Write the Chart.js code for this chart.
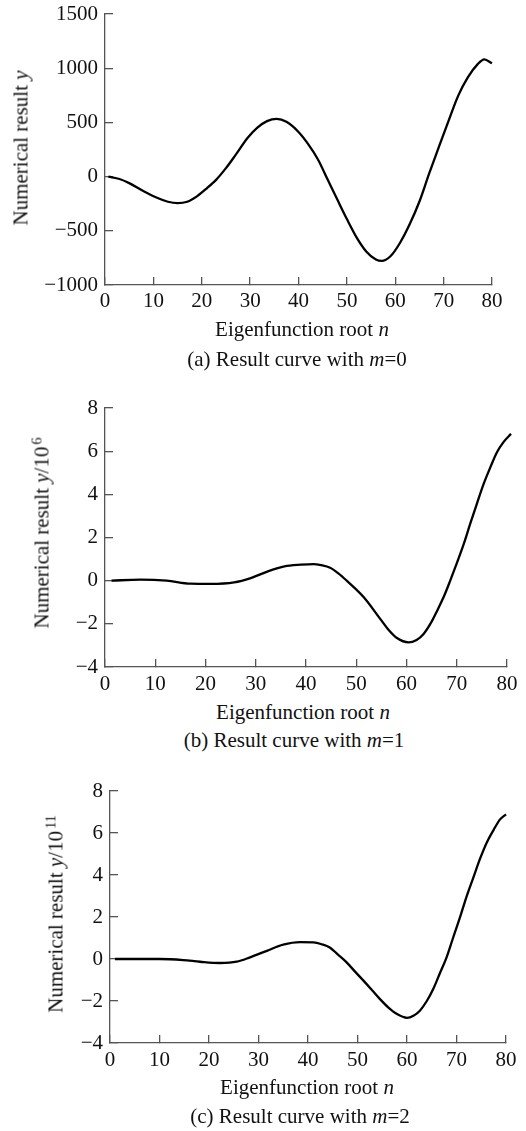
<!DOCTYPE html>
<html>
<head>
<meta charset="utf-8">
<script src="https://cdn.jsdelivr.net/npm/chart.js@4.4.1/dist/chart.umd.min.js"></script>
<style>
    html, body {
        margin: 0;
        padding: 0;
        background: #ffffff;
    }
    #page {
        position: relative;
        width: 526px;
        height: 1131px;
        font-family: 'Liberation Serif', 'Times New Roman', serif;
        color: #111;
    }
    canvas {
        position: absolute;
        left: 0;
    }
    .label {
        position: absolute;
        font-size: 21px;
        line-height: 21px;
        white-space: nowrap;
        transform: translateX(-50%);
    }
    .ytitle {
        position: absolute;
        font-size: 21px;
        line-height: 21px;
        white-space: nowrap;
        transform: translate(-50%, -50%) rotate(-90deg);
    }
    sup {
        font-size: 0.68em;
        line-height: 0;
        vertical-align: 0.5em;
        margin-left: 2px;
    }
</style>
</head>
<body>
<div id="page">
    <canvas id="chartA" width="526" height="320" style="top:0px"></canvas>
    <canvas id="chartB" width="526" height="320" style="top:380px"></canvas>
    <canvas id="chartC" width="526" height="320" style="top:760px"></canvas>

    <div class="ytitle" style="left:21px; top:148px">Numerical result <i>y</i></div>
    <div class="label" style="left:302px; top:319px">Eigenfunction root <i>n</i></div>
    <div class="label" style="left:297px; top:349px">(a) Result curve with <i>m</i>=0</div>

    <div class="ytitle" style="left:42px; top:533px">Numerical result <i>y</i>/10<sup>6</sup></div>
    <div class="label" style="left:303px; top:702px">Eigenfunction root <i>n</i></div>
    <div class="label" style="left:294px; top:730px">(b) Result curve with <i>m</i>=1</div>

    <div class="ytitle" style="left:56px; top:914px">Numerical result <i>y</i>/10<sup>11</sup></div>
    <div class="label" style="left:307px; top:1077px">Eigenfunction root <i>n</i></div>
    <div class="label" style="left:300px; top:1106px">(c) Result curve with <i>m</i>=2</div>
</div>

<script>
// tick labels
const xTicks = [0, 10, 20, 30, 40, 50, 60, 70, 80];
const yTicksA = [-1000, -500, 0, 500, 1000, 1500];
const yTicksB = [-4, -2, 0, 2, 4, 6, 8];
const yTicksC = [-4, -2, 0, 2, 4, 6, 8];

// (a) m = 0
const nA = [0.7, 3, 5, 8, 11, 13, 15, 17, 19, 21, 23, 25, 27, 29.5, 31.5, 33.5, 35.5, 37.5, 40, 42, 44,
    46, 48, 50, 52, 54, 56, 57.2, 59, 61, 63, 65, 67, 69, 71, 73, 75, 77, 78.4, 80];
const yA = [0, -22, -60, -135, -200, -232, -245, -232, -182, -110, -28, 78, 200, 358, 452, 512, 532, 505, 412, 300, 160,
    -25, -210, -392, -560, -690, -765, -778, -735, -610, -438, -230, 27, 271, 512, 745, 915, 1035, 1082, 1045];

// (b) m = 1, y / 10^6
const nB = [1.3, 7, 12.3, 17, 21, 25.7, 29, 32.3, 35.7, 39, 41.5, 43, 44.8, 46.5, 48.1, 51.5, 54.8, 56.5,
    58.1, 60.4, 62, 63.4, 65, 66.1, 67.5, 68.7, 70, 71.4, 72.7, 74, 75.3, 76.7, 78, 79.3, 80.8];
const yB = [0, 0.05, 0, -0.14, -0.15, -0.08, 0.12, 0.42, 0.66, 0.74, 0.77, 0.72, 0.6, 0.33, 0, -0.77, -1.78, -2.3,
    -2.66, -2.86, -2.75, -2.47, -1.9, -1.39, -0.7, 0, 0.8, 1.7, 2.65, 3.56, 4.45, 5.26, 5.95, 6.42, 6.8];

// (c) m = 2, y / 10^11
const nC = [1, 10, 14.8, 18.2, 22.2, 25.6, 28.3, 31.7, 35, 38.4, 41.1, 42.8, 44.4, 46, 47.8, 49.5, 51.2, 53,
    54.5, 56.2, 57.9, 60, 61.3, 62.6, 64, 65.3, 66.6, 68, 69.3, 70.7, 72, 73.4, 74.8, 76.1, 77.5, 78.8, 80];
const yC = [0, 0, -0.05, -0.13, -0.19, -0.13, 0.08, 0.39, 0.68, 0.8, 0.79, 0.7, 0.55, 0.22, -0.16, -0.6, -1.03, -1.5,
    -1.9, -2.3, -2.61, -2.8, -2.7, -2.46, -2.0, -1.43, -0.7, 0.08, 1.0, 1.98, 2.95, 3.88, 4.8, 5.54, 6.15, 6.65, 6.89];

const W = 526;
const H = 320;
const AXIS = '#555555';

Chart.defaults.font.family = "'Liberation Serif', 'Times New Roman', serif";
Chart.defaults.font.size = 21;
Chart.defaults.color = '#111111';

function fmt(value) {
    return String(value).replace('-', '\u2212');
}

// the tick label padding must not push the plot area around
function noPadding(s) {
    s.paddingTop = 0;
    s.paddingBottom = 0;
    s.paddingLeft = 0;
    s.paddingRight = 0;
}

function makePanel(id, xs, ys, yTicks, area) {
    const ctx = document.getElementById(id).getContext('2d');
    return new Chart(ctx, {
        type: 'line',
        data: {
            datasets: [{
                data: xs.map((x, i) => ({ x: x, y: ys[i] })),
                borderColor: '#000000',
                borderWidth: 2.3,
                pointRadius: 0,
                fill: false,
                cubicInterpolationMode: 'monotone',
                clip: false
            }]
        },
        options: {
            responsive: false,
            animation: false,
            devicePixelRatio: 1,
            layout: {
                padding: { left: 0, right: W - area.right, top: area.top, bottom: 0 }
            },
            plugins: {
                legend: { display: false },
                tooltip: { enabled: false }
            },
            scales: {
                x: {
                    type: 'linear',
                    min: 0,
                    max: 80,
                    afterBuildTicks: s => { s.ticks = xTicks.map(v => ({ value: v })); },
                    afterFit: s => { s.height = H - area.bottom; noPadding(s); },
                    grid: { drawOnChartArea: false, tickLength: -8, color: AXIS, lineWidth: 1.3 },
                    border: { color: AXIS, width: 1.3 },
                    ticks: {
                        padding: area.xPad,
                        autoSkip: false,
                        maxRotation: 0,
                        font: { lineHeight: 1 },
                        callback: fmt
                    }
                },
                y: {
                    min: yTicks[0],
                    max: yTicks[yTicks.length - 1],
                    afterBuildTicks: s => { s.ticks = yTicks.map(v => ({ value: v })); },
                    afterFit: s => { s.width = area.left; noPadding(s); },
                    grid: { drawOnChartArea: false, tickLength: -8, color: AXIS, lineWidth: 1.3 },
                    border: { color: AXIS, width: 1.3 },
                    ticks: {
                        padding: 15,
                        font: { lineHeight: 1 },
                        callback: fmt
                    }
                }
            }
        }
    });
}

makePanel('chartA', nA, yA, yTicksA, { left: 105, right: 492, top: 14, bottom: 285, xPad: 13.5 });
makePanel('chartB', nB, yB, yTicksB, { left: 105, right: 507, top: 28, bottom: 287, xPad: 14.5 });
makePanel('chartC', nC, yC, yTicksC, { left: 110, right: 506, top: 31, bottom: 283, xPad: 14.5 });
</script>
</body>
</html>
